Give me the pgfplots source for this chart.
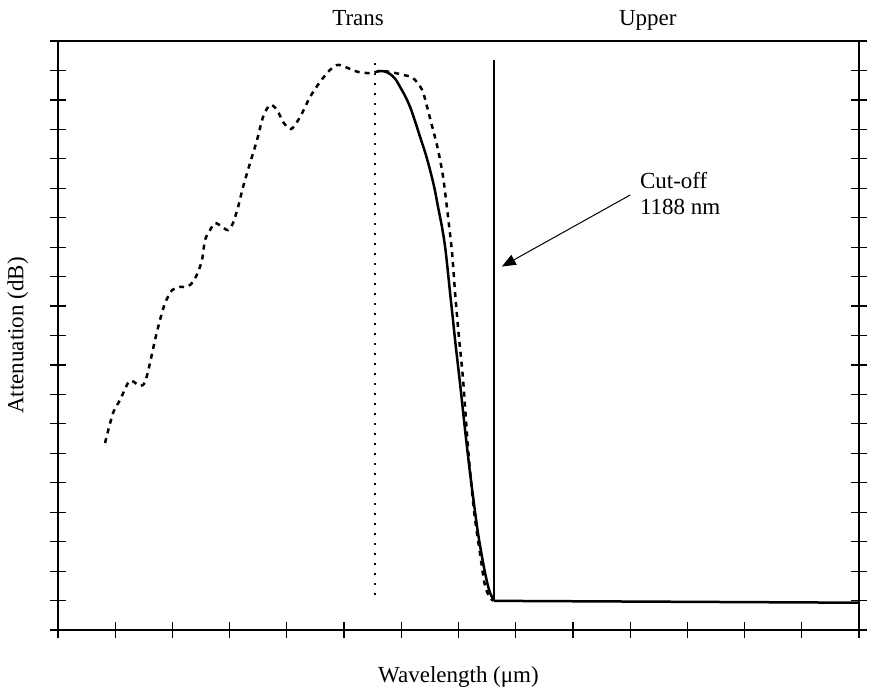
\documentclass[border=0pt]{standalone}
\usepackage{fontspec}
\setmainfont{Liberation Serif}
\usepackage{pgfplots}
\pgfplotsset{compat=1.18}
\usetikzlibrary{arrows.meta}
\begin{document}
\begin{tikzpicture}[font=\fontsize{11.5}{13}\selectfont]
\begin{axis}[
    scale only axis,
    width=400.5pt, height=294.5pt,
    xmin=0, xmax=14, ymin=0, ymax=20,
    xtick={0,1,...,14}, ytick={0,1,...,20},
    xticklabels={}, yticklabels={},
    xtick pos=bottom, ytick pos=both,
    tick align=center,
    major tick length=8pt,
    axis line style={line width=0.6pt},
    every tick/.style={black, line width=0.6pt},
    clip=false,
    xlabel={Wavelength (μm)},
    ylabel={Attenuation (dB)},
    xlabel style={at={(axis description cs:0.5,-0.08)}, anchor=center},
    ylabel style={at={(axis description cs:-0.05,0.5)}, anchor=center},
  ]
% PLOT: measured spectrum (dashed)
\addplot[black, line width=1.25pt, dash pattern=on 2.5pt off 2.5pt, smooth]
coordinates{
  (0.822,6.35) (0.962,7.37) (1.084,7.81) (1.224,8.39) (1.294,8.46)
  (1.434,8.29) (1.521,8.42) (1.608,9.07) (1.696,9.85) (1.783,10.53)
  (1.871,11.10) (1.993,11.54) (2.133,11.65) (2.255,11.65) (2.360,11.82)
  (2.448,12.16) (2.517,12.56) (2.570,13.24) (2.657,13.58) (2.745,13.82)
  (2.867,13.69) (2.972,13.58) (3.059,13.82) (3.147,14.36) (3.234,15.04)
  (3.357,15.86) (3.479,16.64) (3.584,17.42) (3.706,17.83) (3.829,17.66)
  (3.934,17.25) (4.073,17.01) (4.231,17.42) (4.406,18.10) (4.580,18.61)
  (4.755,19.02) (4.895,19.19) (5.070,19.08) (5.245,18.95) (5.455,18.91)
  (5.629,18.98) (5.804,18.95) (6.031,18.85) (6.206,18.74) (6.364,18.34)
  (6.451,17.76) (6.556,16.98) (6.643,16.30) (6.731,15.38) (6.818,14.02)
  (6.888,12.80) (6.941,11.44) (7.000,10.10) (7.080,8.49) (7.170,6.11)
  (7.270,4.07) (7.380,2.55) (7.460,1.53) (7.550,1.09) (7.610,1.00)
};
% PLOT: model (solid)
\addplot[black, line width=1.25pt, smooth]
coordinates{
  (5.577,18.98) (5.700,18.97) (5.804,18.88) (5.900,18.70) (5.979,18.44)
  (6.070,18.12) (6.154,17.76) (6.240,17.28) (6.329,16.74) (6.420,16.20)
  (6.503,15.62) (6.580,15.00) (6.643,14.36) (6.710,13.70) (6.766,13.01)
  (6.810,12.25) (6.853,11.44) (6.900,10.60) (6.940,9.85) (6.985,9.08)
  (7.030,8.32) (7.115,6.79) (7.185,5.60) (7.255,4.52) (7.340,3.30)
  (7.430,2.28) (7.500,1.62) (7.552,1.26) (7.622,0.99)
};
% PLOT: tail after cut-off
\addplot[black, line width=1.25pt]
coordinates{ (7.622,0.99) (14,0.927) };
% PLOT: cut-off marker
\addplot[black, line width=1.3pt]
coordinates{ (7.622,0.99) (7.622,19.35) };
% PLOT: transition marker
\addplot[black, line width=1pt, dash pattern=on 1pt off 4pt]
coordinates{ (5.542,1.19) (5.542,19.29) };
\node[anchor=base] at (axis cs:5.245,20.51) {Trans};
\node[anchor=base] at (axis cs:10.31,20.51) {Upper};
\node[anchor=west, align=left] at (axis cs:10.05,14.82) {Cut-off\\1188 nm};
\draw[-{Triangle[length=7pt,width=5.5pt]}, line width=0.5pt]
  (axis cs:10.0,14.77) -- (axis cs:7.757,12.34);
\end{axis}
\pgfresetboundingbox
\path[use as bounding box] (-29pt,-31.5pt) rectangle (407.5pt,315pt);
\end{tikzpicture}
\end{document}
